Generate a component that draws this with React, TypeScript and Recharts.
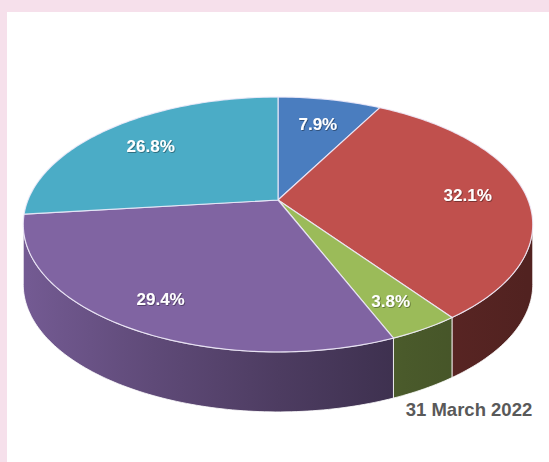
import React from 'react';
import { PieChart, Pie, Cell } from 'recharts';

// chart values (share of total, %), read clockwise from 12 o'clock
const sliceNames = ['Segment 1', 'Segment 2', 'Segment 3', 'Segment 4', 'Segment 5'];
const sliceShares = [7.9, 32.1, 3.8, 29.4, 26.8];
const sliceColors = ['#4a7dbf', '#c0504d', '#9bbb59', '#8064a2', '#4bacc6'];
const dateLabel = '31 March 2022';

const PINK = '#f6e0eb';
const RAD = Math.PI / 180;
// fake perspective for the tilted pie
const PERSPECTIVE = 0.192;
const TILT = 0.491;
const DEPTH_RATIO = 0.24;
// the wall is only seen between the two silhouette points
const SILHOUETTE = Math.asin(PERSPECTIVE) / RAD;

const data = sliceNames.map((name, i) => ({ name, value: sliceShares[i] }));

const project = (cx: number, cy: number, r: number, deg: number, f = 1) => {
    const s = Math.sin(deg * RAD);
    const c = Math.cos(deg * RAD);
    const w = 1 + PERSPECTIVE * s;
    return [cx + (f * r * c) / w, cy - (f * r * TILT * s) / w];
};

const shade = (hex: string, k: number) => {
    const n = parseInt(hex.slice(1), 16);
    const ch = [(n >> 16) & 255, (n >> 8) & 255, n & 255].map((v) => Math.round(v * k));
    return `rgb(${ch.join(',')})`;
};

const sample = (a: number, b: number) => {
    const steps = Math.max(2, Math.ceil(Math.abs(b - a)));
    const out: number[] = [];
    for (let i = 0; i <= steps; i++) out.push(a + ((b - a) * i) / steps);
    return out;
};

const Slice3D = (props: any) => {
    const { cx, cy, outerRadius, startAngle, endAngle, fill, index } = props;
    const lo = Math.min(startAngle, endAngle);
    const hi = Math.max(startAngle, endAngle);
    const depth = outerRadius * DEPTH_RATIO;

    const rim = sample(lo, hi).map((d) => project(cx, cy, outerRadius, d));
    const top = `M${cx},${cy} ` + rim.map((p) => `L${p[0]},${p[1]}`).join(' ') + ' Z';

    const sides: string[] = [];
    for (let k = -2; k <= 1; k++) {
        const a = Math.max(lo, -180 + SILHOUETTE + 360 * k);
        const b = Math.min(hi, -SILHOUETTE + 360 * k);
        if (b - a <= 0.01) continue;
        const pts = sample(a, b).map((d) => project(cx, cy, outerRadius, d));
        const lower = pts.slice().reverse().map((p) => [p[0], p[1] + depth]);
        sides.push('M' + pts.concat(lower).map((p) => `${p[0]},${p[1]}`).join(' L') + ' Z');
    }

    const gid = `side-grad-${index}`;
    const stops = [0.9, 0.74, 0.6, 0.48, 0.42];
    return (
        <g>
            <defs>
                <linearGradient id={gid} gradientUnits="userSpaceOnUse" x1={cx - outerRadius} x2={cx + outerRadius} y1={0} y2={0}>
                    {stops.map((k, i) => (
                        <stop key={i} offset={i / (stops.length - 1)} stopColor={shade(fill, k)} />
                    ))}
                </linearGradient>
            </defs>
            {sides.map((d, i) => (
                <path key={i} d={d} fill={`url(#${gid})`} stroke="rgba(255,255,255,0.8)" strokeWidth={1} />
            ))}
            <path d={top} fill={fill} stroke="rgba(240,235,250,0.85)" strokeWidth={1.2} strokeLinejoin="round" />
        </g>
    );
};

const renderLabel = (props: any) => {
    const { cx, cy, outerRadius, midAngle, percent } = props;
    const [x, y] = project(cx, cy, outerRadius, midAngle, 0.77);
    return (
        <text
            x={x}
            y={y + 2}
            fill="#fff"
            textAnchor="middle"
            dominantBaseline="central"
            filter="url(#label-shadow)"
            style={{ fontFamily: '"Liberation Sans", Arial, sans-serif', fontWeight: 'bold', fontSize: 17 }}
        >
            {`${(percent * 100).toFixed(1)}%`}
        </text>
    );
};

export default function App() {
    return (
        <div style={{ position: 'absolute', left: 0, top: 0, width: 549, height: 462, background: '#fff', overflow: 'hidden' }}>
            <div style={{ position: 'absolute', left: 0, top: 0, width: 549, height: 12, background: PINK }} />
            <div style={{ position: 'absolute', left: 0, top: 0, width: 7, height: 462, background: PINK }} />
            <svg width={0} height={0} style={{ position: 'absolute' }}>
                <defs>
                    <filter id="label-shadow" x="-20%" y="-20%" width="140%" height="140%">
                        <feDropShadow dx="0.8" dy="0.8" stdDeviation="0.6" floodColor="#000" floodOpacity="0.45" />
                    </filter>
                </defs>
            </svg>
            <div style={{ position: 'absolute', left: 0, top: 0 }}>
                <PieChart width={549} height={462} margin={{ top: 0, right: 0, bottom: 0, left: 0 }}>
                    <Pie
                        data={data}
                        dataKey="value"
                        nameKey="name"
                        cx={278}
                        cy={200}
                        outerRadius={250}
                        startAngle={90}
                        endAngle={-270}
                        shape={Slice3D}
                        activeShape={Slice3D}
                        label={renderLabel}
                        labelLine={false}
                        isAnimationActive={false}
                    >
                        {data.map((entry, i) => (
                            <Cell key={`cell-${i}`} fill={sliceColors[i]} />
                        ))}
                    </Pie>
                </PieChart>
            </div>
            <svg width={549} height={462} style={{ position: 'absolute', left: 0, top: 0, pointerEvents: 'none' }}>
                <text
                    x={469}
                    y={416}
                    textAnchor="middle"
                    fill="#595959"
                    style={{ fontFamily: '"Liberation Sans", Arial, sans-serif', fontWeight: 'bold', fontSize: 18.5 }}
                >
                    {dateLabel}
                </text>
            </svg>
        </div>
    );
}
